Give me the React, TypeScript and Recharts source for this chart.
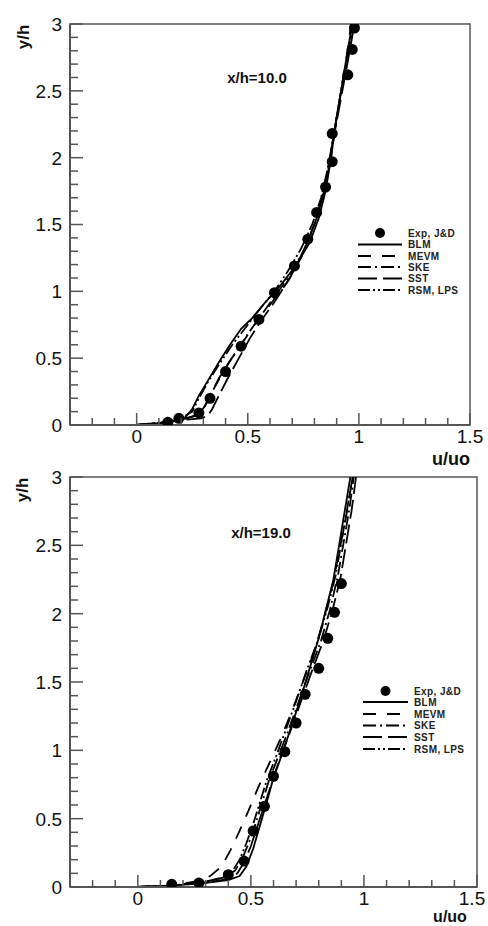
import React from "react";
import { ComposedChart, Line, Scatter, XAxis, YAxis, ReferenceArea } from "recharts";

type Pt = [number, number];

const FONT = '"Liberation Sans", Arial, sans-serif';
const AXIS = "#555";

const xTicks = [-0.2, -0.1, 0, 0.1, 0.2, 0.3, 0.4, 0.5, 0.6, 0.7, 0.8, 0.9, 1, 1.1, 1.2, 1.3, 1.4, 1.5];
const xLabels = ["0", "0.5", "1", "1.5"];
const yTicks = [
  0, 0.1, 0.2, 0.3, 0.4, 0.5, 0.6, 0.7, 0.8, 0.9, 1, 1.1, 1.2, 1.3, 1.4, 1.5, 1.6, 1.7, 1.8, 1.9, 2,
  2.1, 2.2, 2.3, 2.4, 2.5, 2.6, 2.7, 2.8, 2.9, 3,
];
const yLabels = ["0", "0.5", "1", "1.5", "2", "2.5", "3"];

const modelNames = ["BLM", "MEVM", "SKE", "SST", "RSM, LPS"];
const modelDash = ["", "13 11", "13 4 2 4", "19 6", "12 3 2 3 2 3"];

// x/h = 10.0
const exp10: Pt[] = [
  [0.14, 0.02], [0.19, 0.05], [0.28, 0.09], [0.33, 0.2], [0.4, 0.4], [0.47, 0.59], [0.55, 0.79],
  [0.62, 0.99], [0.71, 1.19], [0.77, 1.39], [0.81, 1.59], [0.85, 1.78], [0.88, 1.97], [0.88, 2.18],
  [0.95, 2.62], [0.97, 2.81], [0.98, 2.97],
];
const blm10: Pt[] = [
  [0, 0], [0.1, 0.01], [0.18, 0.03], [0.22, 0.06], [0.25, 0.12], [0.28, 0.22], [0.32, 0.33],
  [0.37, 0.47], [0.42, 0.6], [0.47, 0.72], [0.52, 0.8], [0.58, 0.92], [0.65, 1.05], [0.72, 1.2],
  [0.78, 1.37], [0.82, 1.55], [0.85, 1.75], [0.875, 2.0], [0.895, 2.25], [0.925, 2.55], [0.95, 2.8],
  [0.97, 3.0],
];
const mevm10: Pt[] = [
  [0, 0], [0.1, 0.01], [0.2, 0.04], [0.27, 0.07], [0.3, 0.12], [0.33, 0.22], [0.37, 0.35],
  [0.42, 0.48], [0.47, 0.6], [0.53, 0.75], [0.6, 0.9], [0.67, 1.05], [0.74, 1.25], [0.79, 1.45],
  [0.83, 1.65], [0.86, 1.88], [0.88, 2.1], [0.91, 2.4], [0.94, 2.7], [0.965, 3.0],
];
const ske10: Pt[] = [
  [0, 0], [0.12, 0.02], [0.22, 0.05], [0.28, 0.08], [0.31, 0.15], [0.35, 0.28], [0.39, 0.4],
  [0.44, 0.53], [0.5, 0.68], [0.56, 0.82], [0.62, 0.96], [0.69, 1.12], [0.76, 1.33], [0.81, 1.55],
  [0.845, 1.78], [0.87, 2.0], [0.89, 2.2], [0.92, 2.5], [0.95, 2.78], [0.975, 3.0],
];
const sst10: Pt[] = [
  [0, 0], [0.12, 0.02], [0.22, 0.04], [0.29, 0.05], [0.32, 0.07], [0.34, 0.12], [0.37, 0.22],
  [0.41, 0.35], [0.46, 0.5], [0.51, 0.65], [0.56, 0.78], [0.62, 0.92], [0.69, 1.1], [0.75, 1.3],
  [0.8, 1.5], [0.84, 1.72], [0.87, 1.95], [0.89, 2.18], [0.92, 2.45], [0.95, 2.72], [0.98, 3.0],
];
const rsm10: Pt[] = [
  [0, 0], [0.12, 0.02], [0.2, 0.05], [0.25, 0.1], [0.28, 0.2], [0.32, 0.32], [0.37, 0.45],
  [0.43, 0.6], [0.5, 0.75], [0.56, 0.88], [0.62, 1.0], [0.68, 1.15], [0.74, 1.32], [0.79, 1.5],
  [0.83, 1.7], [0.86, 1.92], [0.885, 2.15], [0.915, 2.45], [0.945, 2.75], [0.97, 3.0],
];

// x/h = 19.0
const exp19: Pt[] = [
  [0.15, 0.02], [0.27, 0.03], [0.4, 0.09], [0.47, 0.19], [0.51, 0.41], [0.56, 0.59], [0.6, 0.81],
  [0.65, 0.99], [0.7, 1.2], [0.74, 1.41], [0.8, 1.6], [0.84, 1.82], [0.87, 2.01], [0.9, 2.22],
];
const blm19: Pt[] = [
  [0, 0], [0.15, 0.01], [0.3, 0.03], [0.4, 0.05], [0.45, 0.08], [0.48, 0.15], [0.51, 0.28],
  [0.54, 0.45], [0.57, 0.62], [0.6, 0.8], [0.64, 0.98], [0.68, 1.18], [0.72, 1.38], [0.76, 1.6],
  [0.8, 1.82], [0.835, 2.05], [0.865, 2.25], [0.89, 2.5], [0.915, 2.75], [0.94, 3.0],
];
const mevm19: Pt[] = [
  [0, 0], [0.15, 0.01], [0.25, 0.04], [0.32, 0.08], [0.37, 0.15], [0.41, 0.27], [0.45, 0.41],
  [0.49, 0.56], [0.53, 0.72], [0.58, 0.9], [0.63, 1.08], [0.68, 1.28], [0.73, 1.5], [0.78, 1.72],
  [0.82, 1.95], [0.86, 2.2], [0.89, 2.45], [0.92, 2.7], [0.95, 3.0],
];
const ske19: Pt[] = [
  [0, 0], [0.15, 0.01], [0.3, 0.04], [0.38, 0.07], [0.43, 0.12], [0.46, 0.2], [0.49, 0.32],
  [0.52, 0.46], [0.55, 0.62], [0.58, 0.78], [0.62, 0.95], [0.66, 1.12], [0.71, 1.35], [0.76, 1.58],
  [0.81, 1.8], [0.85, 2.03], [0.885, 2.28], [0.91, 2.52], [0.935, 2.76], [0.955, 3.0],
];
const sst19: Pt[] = [
  [0, 0], [0.15, 0.01], [0.3, 0.03], [0.4, 0.06], [0.44, 0.1], [0.47, 0.18], [0.5, 0.3],
  [0.53, 0.45], [0.56, 0.6], [0.59, 0.75], [0.63, 0.95], [0.67, 1.12], [0.72, 1.35], [0.77, 1.58],
  [0.82, 1.8], [0.86, 2.02], [0.895, 2.25], [0.92, 2.5], [0.945, 2.75], [0.965, 3.0],
];
const rsm19: Pt[] = [
  [0, 0], [0.15, 0.01], [0.3, 0.04], [0.38, 0.07], [0.42, 0.12], [0.45, 0.2], [0.48, 0.32],
  [0.51, 0.46], [0.54, 0.62], [0.57, 0.78], [0.61, 0.95], [0.65, 1.13], [0.7, 1.36], [0.75, 1.6],
  [0.8, 1.82], [0.84, 2.05], [0.875, 2.28], [0.9, 2.52], [0.925, 2.76], [0.95, 3.0],
];

const rows = (pts: Pt[]) => pts.map(([u, y]) => ({ u, y }));

function XTick({ x, y, payload }: any) {
  const major = xLabels.includes(String(payload.value));
  // keep the last label inside the page
  const tx = Math.min(x, 472);
  return (
    <g>
      <line x1={x} y1={y} x2={x} y2={y - (major ? 12 : 7)} stroke={AXIS} strokeWidth={1.5} />
      {major && (
        <text x={tx} y={y + 18} textAnchor="middle" fontSize={19} fontFamily={FONT} fill="#111">
          {String(payload.value)}
        </text>
      )}
    </g>
  );
}

function YTick({ x, y, payload }: any) {
  const major = yLabels.includes(String(payload.value));
  return (
    <g>
      <line x1={x} y1={y} x2={x + (major ? 13 : 8)} y2={y} stroke={AXIS} strokeWidth={1.5} />
      {major && (
        <text x={x - 8} y={y} dy="0.36em" textAnchor="end" fontSize={19} fontFamily={FONT} fill="#111">
          {String(payload.value)}
        </text>
      )}
    </g>
  );
}

function Panel({ exp, models, top, margin, xHeight }: {
  exp: Pt[]; models: Pt[][]; top: number; margin: { top: number; right: number }; xHeight: number;
}) {
  return (
    <div style={{ position: "absolute", left: 0, top }}>
      <ComposedChart width={488} height={463} margin={{ top: margin.top, right: margin.right, bottom: 0, left: 0 }}>
        <XAxis
          dataKey="u"
          type="number"
          domain={[-0.3, 1.5]}
          ticks={xTicks}
          interval={0}
          allowDataOverflow
          height={xHeight}
          tickSize={0}
          tickMargin={0}
          tickLine={false}
          axisLine={{ stroke: AXIS, strokeWidth: 2 }}
          tick={<XTick />}
        />
        <YAxis
          dataKey="y"
          type="number"
          domain={[0, 3]}
          ticks={yTicks}
          interval={0}
          allowDataOverflow
          width={70}
          tickSize={0}
          tickMargin={0}
          tickLine={false}
          axisLine={{ stroke: AXIS, strokeWidth: 2 }}
          tick={<YTick />}
        />
        <ReferenceArea x1={-0.3} x2={1.5} y1={0} y2={3} fill="none" stroke={AXIS} strokeWidth={1.5} />
        {models.map((m, i) => (
          <Line
            key={modelNames[i]}
            name={modelNames[i]}
            data={rows(m)}
            dataKey="y"
            stroke="#000"
            strokeWidth={1.8}
            strokeDasharray={modelDash[i] || undefined}
            dot={false}
            activeDot={false}
            isAnimationActive={false}
          />
        ))}
        <Scatter
          name="Exp, J&D"
          data={rows(exp)}
          dataKey="y"
          fill="#000"
          isAnimationActive={false}
          shape={(p: any) => <circle cx={p.cx} cy={p.cy} r={5.5} fill="#000" />}
        />
      </ComposedChart>
    </div>
  );
}

function LegendBox({ x0, x1, tx, ys }: { x0: number; x1: number; tx: number; ys: number[] }) {
  const labels = ["Exp, J&D", ...modelNames];
  return (
    <g fontFamily={FONT} fontSize={10} fontWeight="bold" fill="#222">
      <circle cx={(x0 + x1) / 2} cy={ys[0]} r={5} fill="#000" />
      {modelNames.map((n, i) => (
        <line key={n} x1={x0} x2={x1} y1={ys[i + 1]} y2={ys[i + 1]} stroke="#000" strokeWidth={1.8}
          strokeDasharray={modelDash[i] || undefined} />
      ))}
      {labels.map((l, i) => (
        <text key={l} x={tx} y={ys[i]} dy="0.35em" letterSpacing={0.4}>{l}</text>
      ))}
    </g>
  );
}

export default function App() {
  return (
    <div style={{ position: "absolute", left: 0, top: 0, width: 488, height: 926, background: "#fff" }}>
      <Panel exp={exp10} models={[blm10, mevm10, ske10, sst10, rsm10]} top={0} margin={{ top: 24, right: 18 }} xHeight={38} />
      <Panel exp={exp19} models={[blm19, mevm19, ske19, sst19, rsm19]} top={463} margin={{ top: 14, right: 11 }} xHeight={39} />
      <svg width={488} height={926} style={{ position: "absolute", left: 0, top: 0, pointerEvents: "none" }}>
        <g fontFamily={FONT} fontWeight="bold" fill="#111">
          <text x={257} y={78} dy="0.35em" textAnchor="middle" fontSize={15}>x/h=10.0</text>
          <text x={261} y={533} dy="0.35em" textAnchor="middle" fontSize={15}>x/h=19.0</text>
          <text x={451} y={459} dy="0.35em" textAnchor="middle" fontSize={18}>u/uo</text>
          <text x={450} y={921.5} textAnchor="middle" fontSize={16}>u/uo</text>
          <text x={23} y={37} dy="0.35em" textAnchor="middle" fontSize={17} transform="rotate(-90 23 37)">y/h</text>
          <text x={22.5} y={490} dy="0.35em" textAnchor="middle" fontSize={17} transform="rotate(-90 22.5 490)">y/h</text>
        </g>
        <LegendBox x0={358} x1={402} tx={408} ys={[233, 244.5, 256, 267, 278.5, 290]} />
        <LegendBox x0={363} x1={408} tx={414} ys={[691, 702, 714, 725.5, 737, 749]} />
      </svg>
    </div>
  );
}
